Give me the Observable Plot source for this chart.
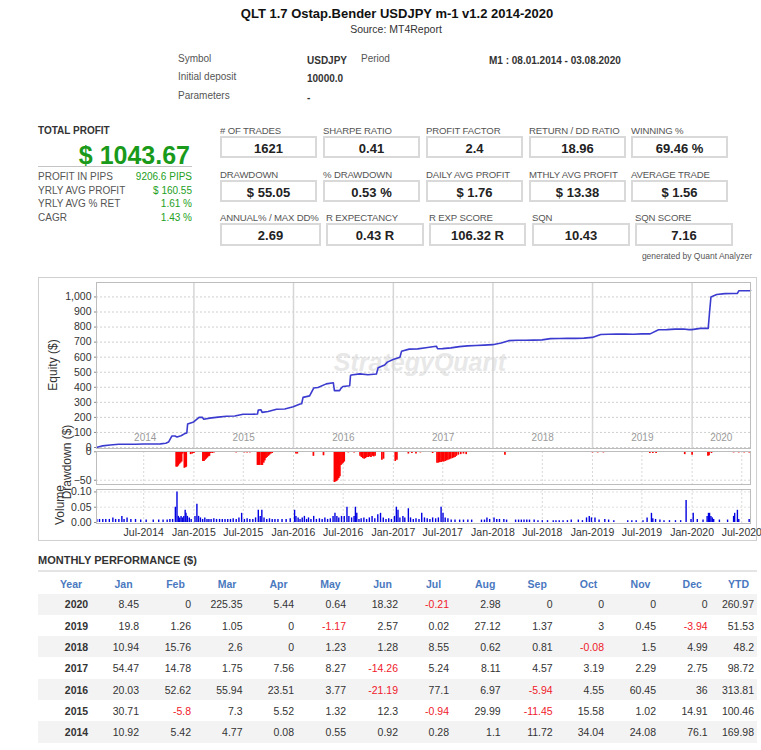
<!DOCTYPE html>
<html>
<head>
<meta charset="utf-8">
<script src="https://cdn.jsdelivr.net/npm/d3@7"></script>
<script src="https://cdn.jsdelivr.net/npm/@observablehq/plot@0.6"></script>
<style>
  body { margin: 0; background: #fff; font-family: "Liberation Sans", Arial, sans-serif; color: #333; }
  #page { position: relative; width: 761px; height: 750px; overflow: hidden; }
  .t { position: absolute; white-space: nowrap; line-height: 1; }
  .box { position: absolute; border: 2px solid #d9d9d9; box-sizing: border-box; }
  .band { position: absolute; background: #f3f3f3; }
  svg.plot-panel { position: absolute; left: 0; }
</style>
</head>
<body>
<div id="page"></div>
<script>
// ---------- report header ----------
const reportTitle = "QLT 1.7 Ostap.Bender USDJPY m-1 v1.2 2014-2020";
const reportSource = "Source: MT4Report";
const infoLabels = ["Symbol", "Initial deposit", "Parameters"];
const infoValues = ["USDJPY", "10000.0", "-"];
const periodLabel = "Period";
const periodValue = "M1 : 08.01.2014 - 03.08.2020";

// ---------- headline figures ----------
const totalProfit = "$ 1043.67";
const summaryLabels = ["PROFIT IN PIPS", "YRLY AVG PROFIT", "YRLY AVG % RET", "CAGR"];
const summaryValues = ["9206.6 PIPS", "$ 160.55", "1.61 %", "1.43 %"];

const tileLabels = [
  ["# OF TRADES", "SHARPE RATIO", "PROFIT FACTOR", "RETURN / DD RATIO", "WINNING %"],
  ["DRAWDOWN", "% DRAWDOWN", "DAILY AVG PROFIT", "MTHLY AVG PROFIT", "AVERAGE TRADE"],
  ["ANNUAL% / MAX DD%", "R EXPECTANCY", "R EXP SCORE", "SQN", "SQN SCORE"]
];
const tileValues = [
  ["1621", "0.41", "2.4", "18.96", "69.46 %"],
  ["$ 55.05", "0.53 %", "$ 1.76", "$ 13.38", "$ 1.56"],
  ["2.69", "0.43 R", "106.32 R", "10.43", "7.16"]
];

// ---------- equity curve ($) ----------
const equity = [
  ["2014-01-09",0],["2014-01-25",8],["2014-01-31",10.9],["2014-02-28",16.3],["2014-03-31",21.1],
  ["2014-04-30",21.2],["2014-05-31",21.8],["2014-06-30",22.7],["2014-07-31",23],["2014-08-31",24.1],
  ["2014-09-20",28],["2014-09-30",35.8],["2014-10-12",76],["2014-10-24",76],["2014-10-31",69.8],
  ["2014-11-15",78],["2014-11-30",93.9],["2014-12-06",96],["2014-12-09",156],["2014-12-31",170],
  ["2015-01-20",200],["2015-02-01",201],["2015-02-06",188],["2015-02-28",195],["2015-03-31",202],
  ["2015-04-30",207.7],["2015-05-31",209],["2015-06-30",221.3],["2015-07-31",220.4],["2015-08-22",222],
  ["2015-08-25",249],["2015-09-04",250],["2015-09-08",233],["2015-09-30",238.9],["2015-10-31",254.5],
  ["2015-11-30",255.5],["2015-12-31",270.4],["2016-01-25",289],["2016-01-31",290.5],["2016-02-05",333],
  ["2016-02-29",343],["2016-03-15",395],["2016-03-31",399],["2016-04-30",422.6],["2016-05-26",430],
  ["2016-05-30",378],["2016-06-18",378],["2016-06-23",393],["2016-06-30",405.2],["2016-07-25",410],
  ["2016-07-28",478],["2016-07-31",482],["2016-08-31",489],["2016-09-30",483],["2016-10-31",487.8],
  ["2016-11-06",529],["2016-11-30",548],["2016-12-10",567],["2016-12-31",584.3],["2017-01-25",600],
  ["2017-01-31",638.7],["2017-02-28",653.5],["2017-03-31",655.3],["2017-04-30",662.8],["2017-05-31",671.1],
  ["2017-06-08",673],["2017-06-12",656],["2017-06-30",656.8],["2017-07-31",662],["2017-08-31",670.1],
  ["2017-09-30",674.7],["2017-10-31",677.9],["2017-11-30",680.2],["2017-12-31",683],["2018-01-31",693.9],
  ["2018-02-28",709.7],["2018-03-31",712.3],["2018-04-30",712.3],["2018-05-31",713.5],["2018-06-30",714.8],
  ["2018-07-31",723.3],["2018-08-31",724],["2018-09-30",724.8],["2018-10-31",724.7],["2018-11-30",726.2],
  ["2018-12-31",731.2],["2019-01-31",751],["2019-02-28",752.3],["2019-03-31",753.3],["2019-04-30",753.3],
  ["2019-05-31",752.1],["2019-06-30",754.7],["2019-07-31",754.7],["2019-08-31",781.8],["2019-09-30",783.2],
  ["2019-10-31",786.2],["2019-11-30",786.6],["2019-12-20",782.7],["2019-12-31",782.7],["2020-01-31",791.2],
  ["2020-02-29",791.2],["2020-03-05",900],["2020-03-10",1000],["2020-03-31",1016.5],["2020-04-30",1022],
  ["2020-05-31",1022.6],["2020-06-15",1024],["2020-06-20",1041],["2020-07-31",1040.7],["2020-08-02",1043.7]
];

// ---------- drawdown ($) ----------
const drawdown = [
  ["2014-01-20",-1],["2014-02-05",-1],["2014-02-20",-1],["2014-03-10",-1],
  ["2014-10-28",-27],["2014-11-01",-27],["2014-11-05",-25],["2014-11-09",-22],["2014-11-13",-20],
  ["2014-11-17",-18],["2014-11-21",-4],["2014-11-27",-29],["2014-12-01",-28],["2014-12-04",-27],
  ["2014-12-20",-5],["2014-12-26",-4],["2015-01-01",-3],
  ["2015-02-03",-17],["2015-02-07",-17],["2015-02-11",-15],["2015-02-15",-13],["2015-02-19",-11],
  ["2015-02-23",-9],["2015-02-27",-8],["2015-03-04",-3],["2015-03-10",-3],["2015-03-16",-2],
  ["2015-06-05",-2],["2015-07-05",-2],["2015-07-15",-2],["2015-07-25",-2],
  ["2015-08-22",-24],["2015-08-26",-24],["2015-08-30",-24],["2015-09-05",-24],["2015-09-09",-24],
  ["2015-09-14",-20],["2015-09-18",-16],["2015-09-22",-12],["2015-09-26",-10],["2015-10-01",-8],
  ["2015-10-05",-6],["2015-10-10",-4],["2015-10-15",-3],
  ["2016-01-10",-4],["2016-01-15",-4],["2016-03-14",-8],["2016-04-20",-7],
  ["2016-05-30",-54],["2016-06-03",-53],["2016-06-07",-52],["2016-06-11",-50],["2016-06-15",-47],
  ["2016-06-19",-44],["2016-06-23",-24],["2016-06-27",-22],["2016-07-01",-20],["2016-07-05",-18],
  ["2016-07-20",-2],["2016-08-01",-1],["2016-08-10",-2],
  ["2016-09-01",-8],["2016-09-06",-10],["2016-09-11",-12],["2016-09-16",-13],["2016-09-21",-12],
  ["2016-09-26",-10],["2016-10-01",-10],["2016-10-06",-9],["2016-10-11",-10],["2016-10-16",-8],
  ["2016-10-21",-9],["2016-10-26",-8],
  ["2016-11-20",-15],["2016-11-26",-13],["2017-01-08",-17],["2017-01-14",-15],
  ["2017-02-25",-4],["2017-03-10",-3],["2017-03-25",-4],["2017-04-10",-2],["2017-05-25",-3],
  ["2017-06-10",-20],["2017-06-15",-20],["2017-06-20",-19],["2017-06-25",-19],["2017-06-30",-18],
  ["2017-07-05",-18],["2017-07-10",-17],["2017-07-15",-16],["2017-07-20",-15],["2017-07-25",-14],
  ["2017-07-30",-13],["2017-08-05",-12],["2017-08-10",-11],["2017-08-15",-10],["2017-08-20",-8],
  ["2017-08-27",-6],["2017-09-05",-5],["2017-09-15",-4],["2017-09-25",-5],
  ["2018-02-14",-6],
  ["2019-01-01",-2],["2019-01-20",-2],["2019-02-10",-2],
  ["2019-07-30",-3],["2019-08-10",-3],["2019-08-22",-3],
  ["2019-12-05",-5],["2020-01-01",-6],
  ["2020-02-28",-8],["2020-03-03",-7],["2020-03-12",-3],
  ["2020-06-01",-2],["2020-06-20",-2],["2020-07-10",-2],["2020-07-28",-2]
];

// ---------- traded volume (lots) ----------
const volume = [
  ["2014-01-10",.01],["2014-01-20",.01],["2014-02-01",.01],["2014-02-12",.01],["2014-02-25",.01],
  ["2014-03-10",.015],["2014-03-20",.01],["2014-04-01",.01],["2014-04-12",.02],["2014-04-20",.01],
  ["2014-05-01",.015],["2014-05-15",.01],["2014-06-01",.01],["2014-06-20",.008],["2014-07-10",.008],
  ["2014-08-05",.008],["2014-08-25",.008],["2014-09-10",.008],["2014-09-25",.008],["2014-10-05",.01],
  ["2014-10-15",.01],["2014-10-25",.05],["2014-10-31",.10],["2014-11-05",.02],["2014-11-10",.015],
  ["2014-11-15",.02],["2014-11-20",.015],["2014-11-25",.02],["2014-11-30",.04],["2014-12-03",.03],
  ["2014-12-08",.02],["2014-12-15",.015],["2014-12-22",.01],
  ["2015-01-05",.02],["2015-01-12",.06],["2015-01-18",.02],["2015-01-25",.015],["2015-02-02",.01],
  ["2015-02-10",.015],["2015-02-18",.01],["2015-02-25",.01],["2015-03-05",.01],["2015-03-15",.012],
  ["2015-03-25",.01],["2015-04-05",.01],["2015-04-15",.01],["2015-04-25",.01],["2015-05-05",.01],
  ["2015-05-15",.01],["2015-05-25",.012],["2015-06-05",.01],["2015-06-15",.015],["2015-06-25",.03],
  ["2015-07-05",.01],["2015-07-15",.012],["2015-07-25",.01],["2015-08-05",.01],["2015-08-15",.015],
  ["2015-08-25",.04],["2015-09-01",.02],["2015-09-07",.04],["2015-09-15",.015],["2015-09-25",.01],
  ["2015-10-05",.012],["2015-10-15",.01],["2015-10-25",.01],["2015-11-05",.01],["2015-11-20",.01],
  ["2015-12-05",.01],["2015-12-20",.012],
  ["2016-01-05",.04],["2016-01-10",.02],["2016-01-18",.015],["2016-01-25",.01],["2016-02-02",.015],
  ["2016-02-10",.02],["2016-02-18",.01],["2016-02-25",.015],["2016-03-05",.01],["2016-03-15",.02],
  ["2016-03-25",.01],["2016-04-05",.012],["2016-04-15",.01],["2016-04-25",.015],["2016-05-05",.01],
  ["2016-05-15",.012],["2016-05-25",.02],["2016-06-01",.03],["2016-06-08",.02],["2016-06-15",.015],
  ["2016-06-25",.02],["2016-07-05",.02],["2016-07-15",.05],["2016-07-22",.02],["2016-08-01",.015],
  ["2016-08-10",.02],["2016-08-15",.05],["2016-08-20",.03],["2016-08-28",.01],["2016-09-05",.012],
  ["2016-09-15",.015],["2016-09-25",.01],["2016-10-05",.015],["2016-10-15",.02],["2016-10-25",.012],
  ["2016-11-05",.025],["2016-11-15",.03],["2016-11-25",.015],["2016-12-05",.01],["2016-12-15",.012],
  ["2016-12-25",.01],
  ["2017-01-05",.02],["2017-01-12",.05],["2017-01-18",.04],["2017-01-25",.015],["2017-02-05",.02],
  ["2017-02-12",.015],["2017-02-25",.045],["2017-03-05",.015],["2017-03-15",.01],["2017-03-25",.012],
  ["2017-04-05",.01],["2017-04-15",.03],["2017-04-25",.015],["2017-05-05",.012],["2017-05-15",.01],
  ["2017-05-25",.015],["2017-06-05",.012],["2017-06-15",.015],["2017-06-25",.05],["2017-07-02",.03],
  ["2017-07-10",.015],["2017-07-20",.012],["2017-08-01",.008],["2017-08-15",.008],["2017-09-01",.008],
  ["2017-09-15",.008],["2017-10-01",.008],["2017-10-15",.008],["2017-11-20",.008],["2017-12-01",.008],
  ["2017-12-10",.015],["2017-12-20",.01],
  ["2018-01-05",.015],["2018-01-15",.01],["2018-01-25",.01],["2018-02-10",.01],["2018-02-20",.008],
  ["2018-03-25",.008],["2018-04-05",.008],["2018-04-15",.008],["2018-04-25",.008],["2018-05-05",.008],
  ["2018-05-15",.008],["2018-06-01",.008],["2018-06-15",.006],["2018-07-01",.006],["2018-07-20",.006],
  ["2018-08-10",.006],["2018-08-20",.006],["2018-09-01",.006],["2018-09-15",.006],["2018-10-01",.006],
  ["2018-10-15",.008],["2018-11-10",.008],["2018-11-25",.006],["2018-12-10",.015],["2018-12-20",.02],
  ["2018-12-28",.015],
  ["2019-01-10",.015],["2019-01-25",.008],["2019-02-15",.01],["2019-03-01",.008],["2019-03-20",.006],
  ["2019-05-10",.006],["2019-05-25",.006],["2019-06-10",.006],["2019-07-05",.006],["2019-07-20",.015],
  ["2019-08-05",.03],["2019-08-10",.012],["2019-08-20",.01],["2019-09-05",.008],["2019-09-20",.006],
  ["2019-10-10",.006],["2019-11-01",.006],["2019-11-20",.006],["2019-12-10",.072],["2019-12-28",.01],
  ["2020-01-05",.03],["2020-01-20",.01],["2020-02-10",.008],["2020-02-25",.02],["2020-03-01",.03],
  ["2020-03-05",.03],["2020-03-10",.02],["2020-03-15",.015],["2020-03-20",.01],["2020-04-10",.008],
  ["2020-05-10",.008],["2020-06-01",.02],["2020-06-05",.03],["2020-06-15",.04],["2020-06-20",.01],
  ["2020-07-28",.01]
];

const equityTicks = [0, 100, 200, 300, 400, 500, 600, 700, 800, 900, 1000];
const drawdownTicks = [0, -50];
const volumeTicks = [0, 0.05, 0.10];

// ---------- monthly performance ($) ----------
const monthNames = ["Jan","Feb","Mar","Apr","May","Jun","Jul","Aug","Sep","Oct","Nov","Dec"];
const perfYears = [2020, 2019, 2018, 2017, 2016, 2015, 2014];
const perf2020 = [8.45, 0, 225.35, 5.44, 0.64, 18.32, -0.21, 2.98, 0, 0, 0, 0];
const perf2019 = [19.8, 1.26, 1.05, 0, -1.17, 2.57, 0.02, 27.12, 1.37, 3, 0.45, -3.94];
const perf2018 = [10.94, 15.76, 2.6, 0, 1.23, 1.28, 8.55, 0.62, 0.81, -0.08, 1.5, 4.99];
const perf2017 = [54.47, 14.78, 1.75, 7.56, 8.27, -14.26, 5.24, 8.11, 4.57, 3.19, 2.29, 2.75];
const perf2016 = [20.03, 52.62, 55.94, 23.51, 3.77, -21.19, 77.1, 6.97, -5.94, 4.55, 60.45, 36];
const perf2015 = [30.71, -5.8, 7.3, 5.52, 1.32, 12.3, -0.94, 29.99, -11.45, 15.58, 1.02, 14.91];
const perf2014 = [10.92, 5.42, 4.77, 0.08, 0.55, 0.92, 0.28, 1.1, 11.72, 34.04, 24.08, 76.1];
const perfYtd = [260.97, 51.53, 48.2, 98.72, 313.81, 100.46, 169.98];

// ================= layout helpers =================
const page = document.getElementById("page");
function txt(s, x, y, opts = {}) {
  const d = document.createElement("div");
  d.className = "t";
  d.textContent = s;
  const ax = opts.align === "right" ? "-100%" : opts.align === "center" ? "-50%" : "0";
  d.style.left = x + "px";
  d.style.top = y + "px";
  d.style.transform = `translate(${ax},-50%)` + (opts.rotate ? ` rotate(${opts.rotate}deg)` : "");
  d.style.fontSize = (opts.size || 10) + "px";
  d.style.color = opts.color || "#444";
  if (opts.bold) d.style.fontWeight = "bold";
  if (opts.italic) d.style.fontStyle = "italic";
  if (opts.spacing) d.style.letterSpacing = opts.spacing + "px";
  page.appendChild(d);
  return d;
}
function rect(cls, x, y, w, h, style = {}) {
  const d = document.createElement("div");
  d.className = cls;
  Object.assign(d.style, {left: x + "px", top: y + "px", width: w + "px", height: h + "px"}, style);
  page.appendChild(d);
  return d;
}

// ================= header =================
txt(reportTitle, 397, 13, {align: "center", size: 13, bold: true, color: "#111"});
txt(reportSource, 396, 29, {align: "center", size: 10.5, color: "#333"});
const infoY = [59, 77, 96];
infoLabels.forEach((l, i) => txt(l, 178, infoY[i], {size: 10, color: "#555"}));
infoValues.forEach((v, i) => txt(v, 307, infoY[i] + 2, {size: 10, bold: true, color: "#333"}));
txt(periodLabel, 361, 59, {size: 10, color: "#555"});
txt(periodValue, 489, 61, {size: 10, bold: true, color: "#333"});

// ================= headline figures =================
txt("TOTAL PROFIT", 38, 131, {size: 10, bold: true, color: "#333"});
txt(totalProfit, 190, 155, {align: "right", size: 25, bold: true, color: "#1a9a1a"});
rect("band", 38, 166, 154, 1, {background: "#c4c4c4"});
const sumY = [177, 190.5, 204, 218];
summaryLabels.forEach((l, i) => txt(l, 38, sumY[i], {size: 10, color: "#555"}));
summaryValues.forEach((v, i) => txt(v, 192, sumY[i], {align: "right", size: 10, color: "#22a022"}));

const tileRows = [
  {label: 130.5, top: 136, h: 22, lefts: [220, 323, 426, 529, 631], widths: [97, 97, 97, 97, 97]},
  {label: 174.5, top: 180, h: 22, lefts: [220, 323, 426, 529, 631], widths: [97, 97, 97, 97, 97]},
  {label: 218, top: 223, h: 23, lefts: [220, 326, 429, 532, 635], widths: [101, 98, 97, 98, 98]}
];
tileRows.forEach((r, ri) => {
  r.lefts.forEach((x, ci) => {
    txt(tileLabels[ri][ci], x, r.label, {size: 9.6, color: "#555", spacing: -0.15});
    rect("box", x, r.top, r.widths[ci], r.h);
    txt(tileValues[ri][ci], x + r.widths[ci] / 2, r.top + r.h / 2 + 0.5, {align: "center", size: 13, bold: true, color: "#222"});
  });
});
txt("generated by Quant Analyzer", 752, 256, {align: "right", size: 8.5, color: "#555"});

// ================= equity / drawdown / volume =================
rect("box", 38, 277, 719, 264, {border: "1px solid #d0d0d0"});
txt("StrategyQuant", 420, 362, {align: "center", size: 25, bold: true, italic: true, color: "#e8e8e8"});

const W = 761, ML = 96, MR = 11;
const xDomain = [new Date("2014-01-09"), new Date("2020-08-02")];
const yearStarts = d3.utcYear.range(new Date("2015-01-01"), xDomain[1]);
const halfYears = d3.utcMonth.every(6).range(new Date("2014-07-01"), xDomain[1]);
const yearLabels = d3.range(2014, 2021).map(y => {
  const a = Math.max(+new Date(`${y}-01-01`), +xDomain[0]);
  const b = Math.min(+new Date(`${y + 1}-01-01`), +xDomain[1]);
  return {year: String(y), mid: new Date((a + b) / 2)};
});
const parse = d => new Date(d[0]);
const base = {
  width: W, marginLeft: ML, marginRight: MR,
  style: {background: "transparent", overflow: "visible", fontFamily: "Liberation Sans, Arial, sans-serif", color: "#333"}
};
function mount(svg, top) {
  svg.classList.add("plot-panel");
  svg.style.position = "absolute";
  svg.style.left = "0px";
  svg.style.top = top + "px";
  page.appendChild(svg);
}

const equityPlot = Plot.plot({
  ...base, height: 172, marginTop: 6, marginBottom: 0,
  x: {type: "utc", domain: xDomain, axis: null},
  y: {domain: [-6.7, 1096]},
  marks: [
    Plot.gridY(equityTicks, {stroke: "#cfcfcf", strokeOpacity: 1, strokeDasharray: "2,2"}),
    Plot.gridX(yearStarts, {stroke: "#d6d6d6", strokeOpacity: 1, strokeWidth: 1.5}),
    Plot.axisY(equityTicks, {tickFormat: d3.format(","), tickSize: 2, tickPadding: 3, fontSize: 10.5, label: null, stroke: "#888"}),
    Plot.text(yearLabels, {x: "mid", text: "year", frameAnchor: "bottom", dy: -8, fill: "#9a9a9a", fontSize: 10}),
    Plot.line(equity, {x: parse, y: d => d[1], stroke: "#3b3bd0", strokeWidth: 1.6}),
    Plot.frame({stroke: "#bdbdbd"})
  ]
});
mount(equityPlot, 276);

const drawdownPlot = Plot.plot({
  ...base, height: 34, marginTop: 1, marginBottom: 0,
  x: {type: "utc", domain: xDomain, axis: null},
  y: {domain: [-57.5, 0.5]},
  marks: [
    Plot.gridX(halfYears, {stroke: "#d8d8d8", strokeOpacity: 1, strokeDasharray: "2,2"}),
    Plot.gridY([-50], {stroke: "#d8d8d8", strokeOpacity: 1, strokeDasharray: "2,2"}),
    Plot.ruleX(drawdown, {x: parse, y1: 0, y2: d => d[1], stroke: "#ff0000", strokeWidth: 1.7}),
    Plot.axisY(drawdownTicks, {tickSize: 2, tickPadding: 3, fontSize: 10.5, label: null, stroke: "#888"}),
    Plot.frame({stroke: "#bdbdbd"})
  ]
});
mount(drawdownPlot, 450);

const volumePlot = Plot.plot({
  ...base, height: 54, marginTop: 0, marginBottom: 20,
  x: {type: "utc", domain: xDomain},
  y: {domain: [-0.0033, 0.108]},
  marks: [
    Plot.gridX(halfYears, {stroke: "#d8d8d8", strokeOpacity: 1, strokeDasharray: "2,2"}),
    Plot.gridY([0.05, 0.10], {stroke: "#e0e0e0", strokeOpacity: 1, strokeDasharray: "2,2"}),
    Plot.ruleX(volume, {x: parse, y1: 0, y2: d => d[1], stroke: "#0000e0", strokeWidth: 1.4}),
    Plot.axisY(volumeTicks, {tickFormat: d3.format(".2f"), tickSize: 2, tickPadding: 3, fontSize: 10.5, label: null, stroke: "#888"}),
    Plot.axisX(halfYears, {tickFormat: d3.utcFormat("%b-%Y"), tickSize: 0, tickPadding: 5, fontSize: 10.5, label: null}),
    Plot.frame({stroke: "#bdbdbd"})
  ]
});
mount(volumePlot, 489);

txt("Equity ($)", 53, 365, {align: "center", rotate: -90, size: 12, color: "#333"});
txt("Drawdown ($)", 67, 462, {align: "center", rotate: -90, size: 12, color: "#333"});
txt("Volume", 60, 505, {align: "center", rotate: -90, size: 12, color: "#333"});

// ================= monthly performance table =================
txt("MONTHLY PERFORMANCE ($)", 38, 560, {size: 11, bold: true, color: "#333"});
rect("band", 38, 570, 719, 2, {background: "#e4e4e4"});
const colRight = [139, 191, 242.5, 294, 346, 398, 449, 500.7, 552.7, 604, 656, 707.7];
const ytdRight = 754;
const headY = 584;
const blue = "#4a78c0";
txt("Year", 71, headY, {align: "center", size: 10.5, bold: true, color: blue});
monthNames.forEach((m, i) => txt(m, colRight[i] - 15.5, headY, {align: "center", size: 10.5, bold: true, color: blue}));
txt("YTD", ytdRight - 15.5, headY, {align: "center", size: 10.5, bold: true, color: blue});
const perfRows = [perf2020, perf2019, perf2018, perf2017, perf2016, perf2015, perf2014];
perfYears.forEach((yr, r) => {
  const cy = 604.3 + r * 21.3;
  if (r % 2 === 0) rect("band", 38, cy - 10.7, 719, 21.3);
  txt(String(yr), 76.5, cy, {align: "center", size: 10.5, bold: true, color: "#333"});
  perfRows[r].forEach((v, i) => txt(String(v), colRight[i], cy, {align: "right", size: 10.5, color: v < 0 ? "#f0202a" : "#333"}));
  txt(String(perfYtd[r]), ytdRight, cy, {align: "right", size: 10.5, color: "#333"});
});
</script>
</body>
</html>
